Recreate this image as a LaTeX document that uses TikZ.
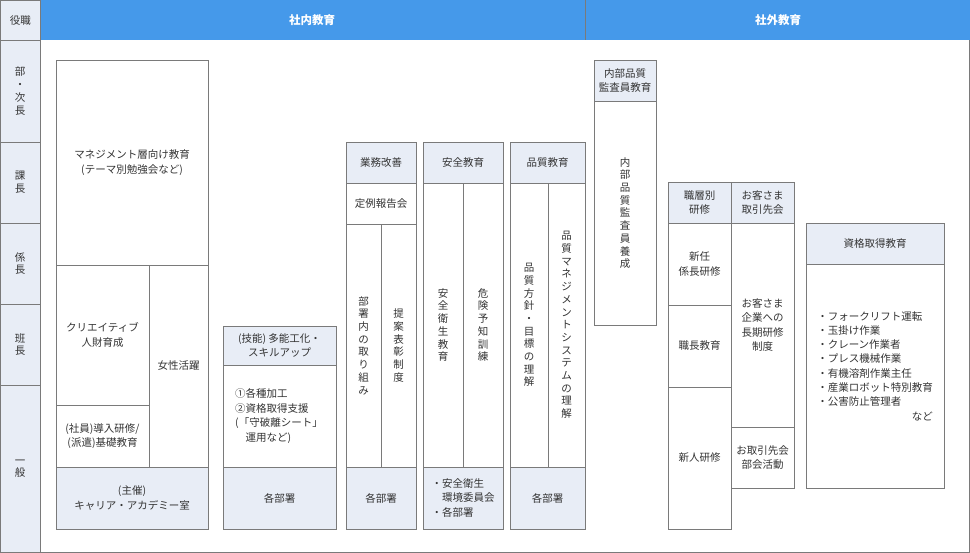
\documentclass[tikz,border=0pt]{standalone}
\usepackage{fontspec}
\setmainfont{Noto Sans CJK JP}
\usetikzlibrary{calc}
\definecolor{headblue}{HTML}{4599EA}
\definecolor{paleblue}{HTML}{E8EDF6}
\definecolor{linegray}{HTML}{7A7A7A}
\definecolor{textgray}{HTML}{333333}
\tikzset{
  cell/.style={draw=linegray,line width=0.9pt,fill=white},
  headcell/.style={cell,fill=paleblue},
  txt/.style={align=center,text=textgray,font=\fontsize{10.5}{14.5}\selectfont,inner sep=0pt},
  vtxt/.style={txt,font=\fontsize{10.5}{12.7}\selectfont},
}
\newcommand\cell[6][cell]{%
  \draw[#1] (#2,#3) rectangle (#4,#5);
  \node[txt] at ($(#2,#3)!0.5!(#4,#5)$) {#6};}
\newcommand\vcell[6][cell]{%
  \draw[#1] (#2,#3) rectangle (#4,#5);
  \node[vtxt] at ($(#2,#3)!0.5!(#4,#5)$) {#6};}
\begin{document}
\begin{tikzpicture}[x=1pt,y=-1pt]
\useasboundingbox (0,0) rectangle (970,553);
% frame and header
\draw[cell] (0.5,0.5) rectangle (969.5,552.5);
\fill[headblue] (40,0.5) rectangle (969.5,40);
\draw[linegray,line width=0.9pt] (585,0.5) -- (585,40);
\node[txt,text=white,font=\fontsize{11.5}{14}\selectfont\bfseries] (inhouse) at (312,20) {社内教育};
\node[txt,text=white,font=\fontsize{11.5}{14}\selectfont\bfseries] (outside) at (778,20) {社外教育};
% role column
\cell[headcell]{0.5}{0.5}{40}{40}{役職}
\vcell[headcell]{0.5}{40}{40}{142}{部\\・\\次\\長}
\vcell[headcell]{0.5}{142}{40}{223}{課\\長}
\vcell[headcell]{0.5}{223}{40}{304}{係\\長}
\vcell[headcell]{0.5}{304}{40}{385}{班\\長}
\vcell[headcell]{0.5}{385}{40}{552.5}{一\\般}
% career academy
\cell{56}{60}{208}{265}{マネジメント層向け教育\\(テーマ別勉強会など)}
\cell{56}{265}{149}{405}{クリエイティブ\\人財育成}
\cell{56}{405}{149}{467}{(社員)導入研修/\\(派遣)基礎教育}
\cell{149}{265}{208}{467}{女性活躍}
\cell[headcell]{56}{467}{208}{529}{(主催)\\キャリア・アカデミー室}
% skill up
\cell[headcell]{223}{326}{336}{365}{(技能) 多能工化・\\スキルアップ}
\draw[cell] (223,365) rectangle (336,467);
\node[txt,align=left] (skill) at (279,416) {①各種加工\\②資格取得支援\\(「守破離シート」\\\quad 運用など)};
\cell[headcell]{223}{467}{336}{529}{各部署}
% business improvement
\cell[headcell]{346}{142}{416}{183}{業務改善}
\cell{346}{183}{416}{224}{定例報告会}
\vcell{346}{224}{381}{467}{部\\署\\内\\の\\取\\り\\組\\み}
\vcell{381}{224}{416}{467}{提\\案\\表\\彰\\制\\度}
\cell[headcell]{346}{467}{416}{529}{各部署}
% safety
\cell[headcell]{423}{142}{503}{183}{安全教育}
\vcell{423}{183}{463}{467}{安\\全\\衛\\生\\教\\育}
\vcell{463}{183}{503}{467}{危\\険\\予\\知\\訓\\練}
\draw[headcell] (423,467) rectangle (503,529);
\node[txt,align=left] (safetycom) at (463,498) {・安全衛生\\\phantom{・}環境委員会\\・各部署};
% quality
\cell[headcell]{510}{142}{585}{183}{品質教育}
\vcell{510}{183}{548}{467}{品\\質\\方\\針\\・\\目\\標\\の\\理\\解}
\vcell{548}{183}{585}{467}{品\\質\\マ\\ネ\\ジ\\メ\\ン\\ト\\シ\\ス\\テ\\ム\\の\\理\\解}
\cell[headcell]{510}{467}{585}{529}{各部署}
% internal auditor
\cell[headcell]{594}{60}{656}{101}{内部品質\\監査員教育}
\draw[cell] (594,101) rectangle (656,325);
\node[vtxt] (auditor) at (625,213) {内\\部\\品\\質\\監\\査\\員\\養\\成};
% external
\cell[headcell]{668}{182}{731}{223}{職層別\\研修}
\cell[headcell]{731}{182}{794}{223}{お客さま\\取引先会}
\cell{668}{223}{731}{305}{新任\\係長研修}
\cell{668}{305}{731}{387}{職長教育}
\cell{668}{387}{731}{529}{新人研修}
\cell{731}{223}{794}{427}{お客さま\\企業への\\長期研修\\制度}
\cell{731}{427}{794}{488}{お取引先会\\部会活動}
% qualification
\cell[headcell]{806}{223}{944}{264}{資格取得教育}
\draw[cell] (806,264) rectangle (944,488);
\node[txt,align=left,font=\fontsize{10.5}{14.3}\selectfont] (qual) at (875,366) {・フォークリフト運転\\・玉掛け作業\\・クレーン作業者\\・プレス機械作業\\・有機溶剤作業主任\\・産業ロボット特別教育\\・公害防止管理者\\\hfill など};
\end{tikzpicture}
\end{document}
